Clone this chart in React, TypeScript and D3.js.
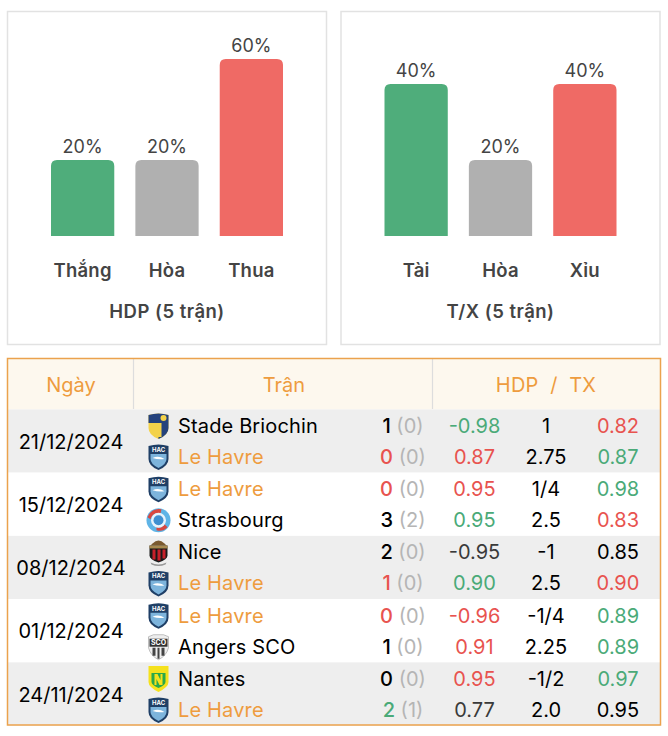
import React from "react";
import * as d3 from "d3";

const FONT = "Inter, 'Noto Sans', sans-serif";
const hdpCategories = ["Thắng", "Hòa", "Thua"];
const hdpValues = [20, 20, 60];
const txCategories = ["Tài", "Hòa", "Xỉu"];
const txValues = [40, 20, 40];
const barColors = ["#4fad7b", "#b0b0b0", "#ef6a65"];
const dates = ["21/12/2024", "15/12/2024", "08/12/2024", "01/12/2024", "24/11/2024"];
const teams = ["Stade Briochin", "Le Havre", "Le Havre", "Strasbourg", "Nice", "Le Havre", "Le Havre", "Angers SCO", "Nantes", "Le Havre"];
const logos = ["briochin", "hac", "hac", "rcsa", "nice", "hac", "hac", "sco", "nantes", "hac"];
const goals = ["1", "0", "0", "3", "2", "1", "0", "1", "0", "2"];
const goalClass = ["k", "r", "r", "k", "k", "r", "r", "k", "k", "g"];
const halfGoals = ["(0)", "(0)", "(0)", "(2)", "(0)", "(0)", "(0)", "(0)", "(0)", "(1)"];
const oddsA = ["-0.98", "0.87", "0.95", "0.95", "-0.95", "0.90", "-0.96", "0.91", "0.95", "0.77"];
const oddsAClass = ["g", "r", "r", "g", "d", "g", "r", "r", "r", "d"];
const lines = ["1", "2.75", "1/4", "2.5", "-1", "2.5", "-1/4", "2.25", "-1/2", "2.0"];
const oddsB = ["0.82", "0.87", "0.98", "0.83", "0.85", "0.90", "0.89", "0.89", "0.97", "0.95"];
const oddsBClass = ["r", "g", "g", "r", "k", "r", "g", "g", "g", "k"];

const tone: Record<string, string> = { g: "#4aaa78", r: "#e8534f", k: "#000000", d: "#3a3a3a" };
const ORANGE = "#ee9c3e";

const barY = d3.scaleLinear().domain([0, 20, 40, 60]).range([236, 160, 84, 59]);
const rowY = d3.scaleBand<number>().domain(d3.range(5)).range([409.4, 725.6]);

function Panel({ x, title, cats, vals }: { x: number; title: string; cats: string[]; vals: number[] }) {
  const bx = d3.scaleBand<string>().domain(cats).range([x + 44, x + 276]).paddingInner(0.25).paddingOuter(0);
  return (
    <g>
      <rect x={x + 0.5} y={11.5} width={319} height={333} fill="#fff" stroke="#e2e2e2" strokeWidth={1.5} />
      {cats.map((c, i) => {
        const bw = bx.bandwidth();
        const px = bx(c)!;
        const top = barY(vals[i]);
        const r = 6;
        const d = `M${px},236V${top + r}Q${px},${top} ${px + r},${top}H${px + bw - r}Q${px + bw},${top} ${px + bw},${top + r}V236Z`;
        return (
          <g key={c}>
            <path d={d} fill={barColors[i]} />
            <text x={px + bw / 2} y={top - 7} textAnchor="middle" fontSize={18} fill="#444" fontFamily={FONT}>{vals[i]}%</text>
            <text x={px + bw / 2} y={277} textAnchor="middle" fontSize={18.5} fontWeight={600} letterSpacing={0.2} fill="#444" fontFamily={FONT}>{c}</text>
          </g>
        );
      })}
      <text x={x + 160} y={318} textAnchor="middle" fontSize={18.5} fontWeight={600} letterSpacing={0.5} fill="#444" fontFamily={FONT}>{title}</text>
    </g>
  );
}

function Logo({ kind, cx, cy }: { kind: string; cx: number; cy: number }) {
  const shield = "M-10,-11 Q0,-14 10,-11 V2 Q10,9 0,13 Q-10,9 -10,2Z";
  if (kind === "rcsa") {
    return (
      <g transform={`translate(${cx},${cy})`}>
        <circle r={12} fill="#5fb4e6" />
        <path d="M-11,-3 A12,12 0 0 1 3,-11 L2,-7 A8,8 0 0 0 -8,-1Z" fill="#d9473f" />
        <path d="M-2,10 A11,11 0 0 0 9,7 L6,4 A7,7 0 0 1 -2,7Z" fill="#d9473f" />
        <circle r={7.5} fill="#e8f3fb" />
        <circle r={5} fill="#3f8fd0" />
      </g>
    );
  }
  if (kind === "hac") {
    return (
      <g transform={`translate(${cx},${cy})`}>
        <path d={shield} fill="#1f3f66" />
        <path d="M-8,-3 H8 V2 Q8,7 0,11 Q-8,7 -8,2Z" fill="#7db4dc" />
        <path d="M-6,1 Q0,-2 6,2 Q0,3 -6,1Z" fill="#fff" />
        <text y={-5} textAnchor="middle" fontSize={6} fontWeight={700} fill="#fff" fontFamily={FONT}>HAC</text>
      </g>
    );
  }
  if (kind === "briochin") {
    return (
      <g transform={`translate(${cx},${cy})`}>
        <path d={shield} fill="#f3d24a" />
        <path d="M-10,-11 Q0,-14 10,-11 V-3 H-10Z" fill="#24427c" />
        <path d="M0,-3 H10 V2 Q10,9 0,13Z" fill="#24427c" />
        <circle cx={5} cy={-8} r={3} fill="#f3d24a" />
        <path d="M-1,-3 H3 V11 H-1Z" fill="#f3d24a" />
      </g>
    );
  }
  if (kind === "nice") {
    return (
      <g transform={`translate(${cx},${cy})`}>
        <path d="M-6,-9 Q0,-15 6,-9 L8,-7 H-8Z" fill="#7a5a30" />
        <path d="M-9,-7 H9 V3 Q9,7 0,10 Q-9,7 -9,3Z" fill="#1a1a1a" />
        <path d="M-6,-3 H-3 V7 H-6Z M-1,-3 H2 V8 H-1Z M4,-3 H7 V6 H4Z" fill="#c8202a" />
        <path d="M-9,-7 H9 V-4 H-9Z" fill="#a88a50" />
        <path d="M-8,10 Q0,14 8,10 L7,12 Q0,15 -7,12Z" fill="#999" />
      </g>
    );
  }
  if (kind === "sco") {
    return (
      <g transform={`translate(${cx},${cy})`}>
        <path d="M-10,-10 L-5,-12 H5 L10,-10 V1 Q8,9 0,13 Q-8,9 -10,1Z" fill="#eee" stroke="#999" strokeWidth={0.6} />
        <path d="M-9,-8 H9 V0 H-9Z" fill="#333" />
        <path d="M-6,1 H-3 V9 H-6Z M-1,1 H1 V12 H-1Z M3,1 H6 V9 H3Z" fill="#444" />
        <text y={-1.5} textAnchor="middle" fontSize={7} fontWeight={700} fill="#fff" fontFamily={FONT}>SCO</text>
      </g>
    );
  }
  return (
    <g transform={`translate(${cx},${cy})`}>
      <path d="M-10,-13 H10 V3 Q10,8 0,13 Q-10,8 -10,3Z" fill="#f5e11d" />
      <path d="M-7,-6 H7 V3 Q7,6 0,9 Q-7,6 -7,3Z" fill="#2aa84a" />
      <path d="M-4,-5 H-1 L2,1 V-5 H4 V6 H1 L-2,0 V6 H-4Z" fill="#f5e11d" />
    </g>
  );
}

export default function App() {
  const T = { fontFamily: FONT, fontSize: 20 } as const;
  const subY = (r: number, k: number) => rowY(r)! + (k === 0 ? 16.6 : 47.6);
  return (
    <svg width={668} height={736} style={{ position: "absolute", left: 0, top: 0 }}>
      <Panel x={7} title="HDP (5 trận)" cats={hdpCategories} vals={hdpValues} />
      <Panel x={340.5} title="T/X (5 trận)" cats={txCategories} vals={txValues} />

      <rect x={8} y={359} width={652} height={50.5} fill="#fdf8ee" />
      {d3.range(5).map((r) => (
        <rect key={r} x={8} y={rowY(r)!} width={652} height={rowY.bandwidth()} fill={r % 2 === 0 ? "#eeeeee" : "#ffffff"} />
      ))}
      <line x1={133.5} x2={133.5} y1={359} y2={409} stroke="#ddd" strokeWidth={1.2} />
      <line x1={432.5} x2={432.5} y1={359} y2={409} stroke="#ddd" strokeWidth={1.2} />
      <rect x={7.5} y={358.5} width={653} height={366.5} fill="none" stroke="#eba24d" strokeWidth={1.5} />
      <text x={71} y={392} textAnchor="middle" fill={ORANGE} {...T}>Ngày</text>
      <text x={284} y={392} textAnchor="middle" fill={ORANGE} {...T}>Trận</text>
      <text x={546} y={392} textAnchor="middle" fill={ORANGE} letterSpacing={0.2} {...T} xmlSpace="preserve">HDP  /  TX</text>

      {dates.map((d, r) => (
        <text key={d} x={71} y={rowY(r)! + 39.15} textAnchor="middle" fill="#000" {...T}>{d}</text>
      ))}
      {teams.map((t, i) => {
        const r = Math.floor(i / 2);
        const k = i % 2;
        const y = subY(r, k);
        return (
          <g key={i}>
            <Logo kind={logos[i]} cx={158.5} cy={y} />
            <text x={178} y={y + 7} letterSpacing={0.15} fill={t === "Le Havre" ? ORANGE : "#000"} {...T}>{t}</text>
            <text x={403} y={y + 7} textAnchor="middle" {...T} xmlSpace="preserve">
              <tspan fontWeight={500} fill={tone[goalClass[i]]}>{goals[i]}</tspan>
              <tspan fill="#b5b5b5"> {halfGoals[i]}</tspan>
            </text>
            <text x={474.5} y={y + 7} textAnchor="middle" fill={tone[oddsAClass[i]]} {...T}>{oddsA[i]}</text>
            <text x={546} y={y + 7} textAnchor="middle" fill="#000" {...T}>{lines[i]}</text>
            <text x={618} y={y + 7} textAnchor="middle" fill={tone[oddsBClass[i]]} {...T}>{oddsB[i]}</text>
          </g>
        );
      })}
    </svg>
  );
}
